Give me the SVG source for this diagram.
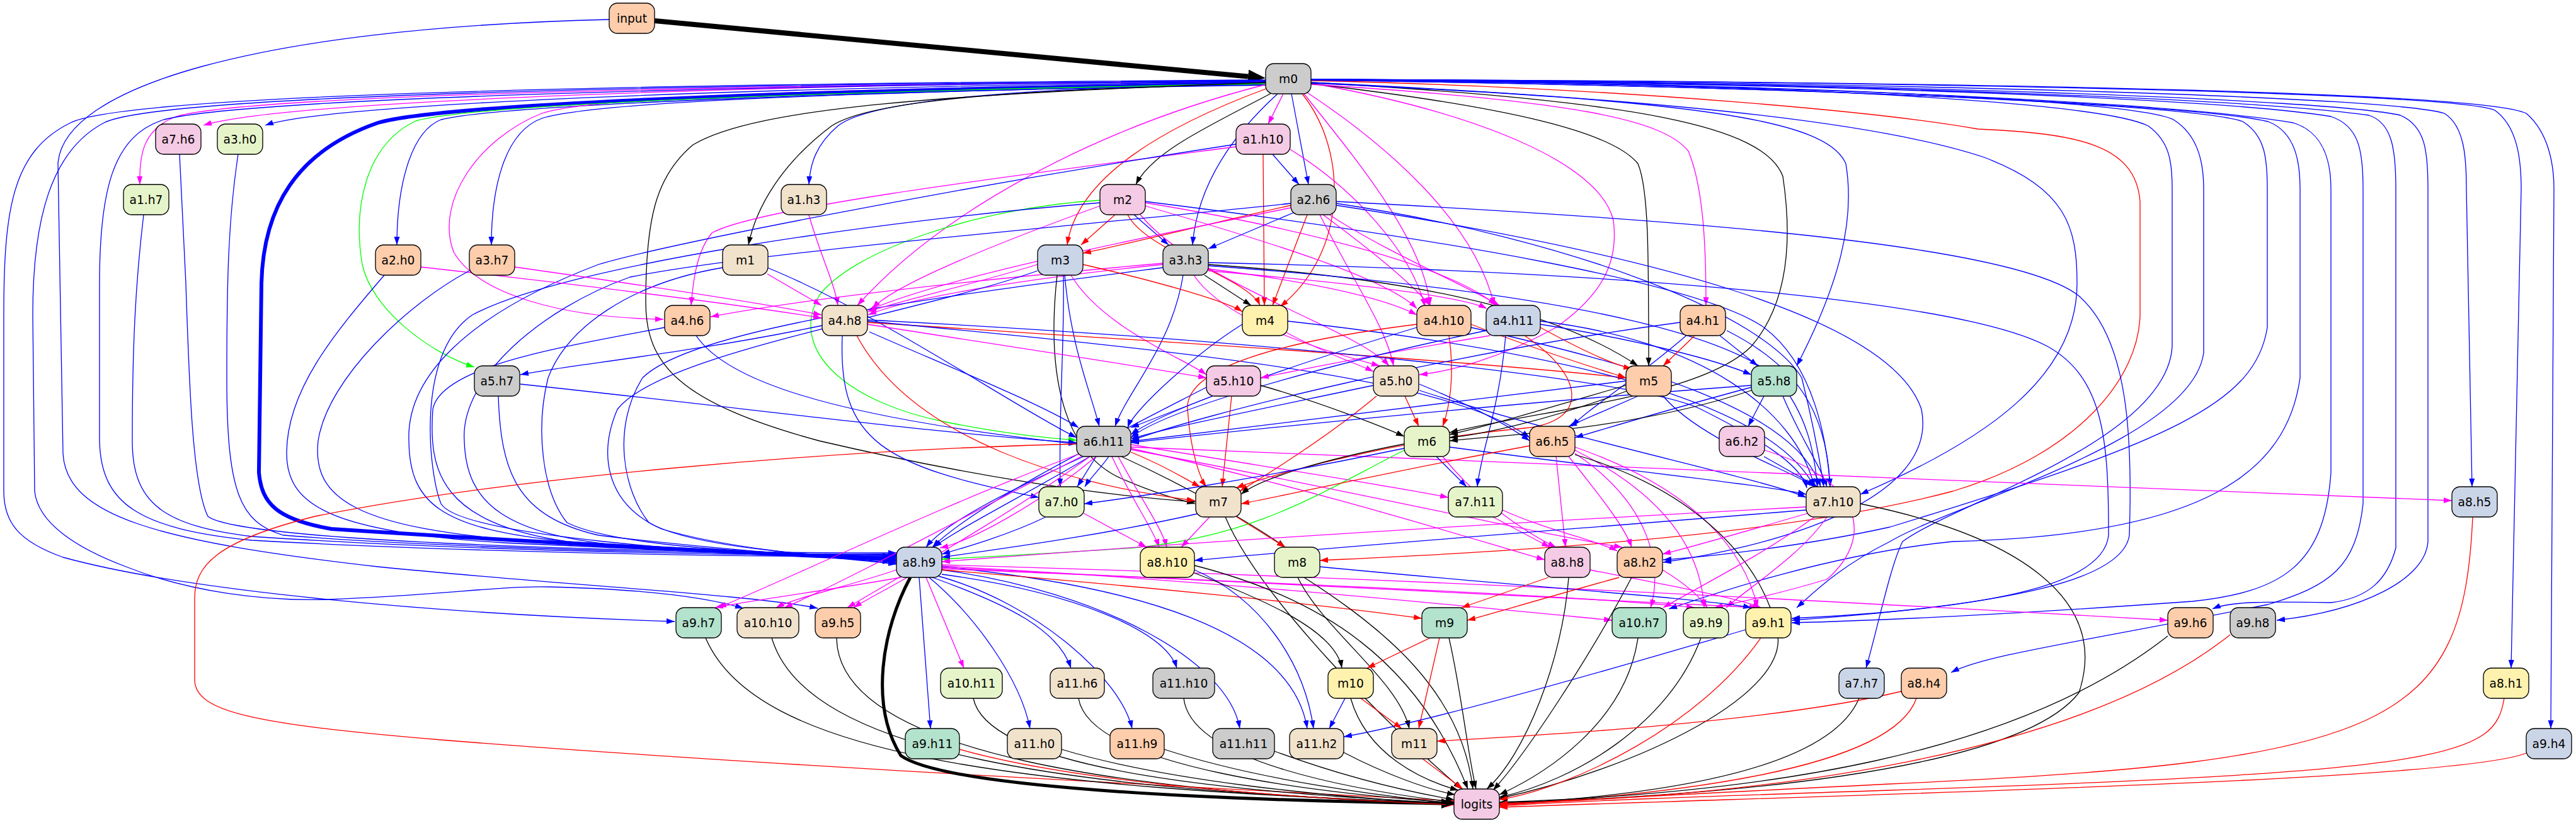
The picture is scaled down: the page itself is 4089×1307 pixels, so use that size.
<svg xmlns="http://www.w3.org/2000/svg" width="4089" height="1307" viewBox="0 0 4089 1307">
<style>
.n rect{stroke:#000;stroke-width:1.33}
.n text{font-family:"DejaVu Sans","Liberation Sans",sans-serif;font-size:18.67px;text-anchor:middle;fill:#000}
.c1{fill:#b3e2cd}.c2{fill:#fdcdac}.c3{fill:#cbd5e8}.c4{fill:#f4cae4}.c5{fill:#e6f5c9}.c6{fill:#fff2ae}.c7{fill:#f1e2cc}.c8{fill:#cccccc}
#edges path{fill:none;stroke-width:1.3}
#edges .b{stroke:#0000ff;marker-end:url(#ab)}
#edges .m{stroke:#ff00ff;marker-end:url(#am)}
#edges .r{stroke:#ff0000;marker-end:url(#ar)}
#edges .k{stroke:#000000;marker-end:url(#ak)}
#edges .g{stroke:#00ff00;marker-end:url(#ag)}
#edges .tk{stroke:#000000;stroke-width:8;marker-end:url(#akb)}
#edges .tb{stroke:#0000ff;stroke-width:6;marker-end:url(#abb)}
#edges .tl{stroke:#000000;stroke-width:5;marker-end:url(#akl)}
</style>
<defs>
<marker id="ab" markerUnits="userSpaceOnUse" markerWidth="13" markerHeight="10" refX="13" refY="5" orient="auto"><path d="M0,0.5 L13,5 L0,9.5 z" fill="#0000ff"/></marker>
<marker id="am" markerUnits="userSpaceOnUse" markerWidth="13" markerHeight="10" refX="13" refY="5" orient="auto"><path d="M0,0.5 L13,5 L0,9.5 z" fill="#ff00ff"/></marker>
<marker id="ar" markerUnits="userSpaceOnUse" markerWidth="13" markerHeight="10" refX="13" refY="5" orient="auto"><path d="M0,0.5 L13,5 L0,9.5 z" fill="#ff0000"/></marker>
<marker id="ak" markerUnits="userSpaceOnUse" markerWidth="13" markerHeight="10" refX="13" refY="5" orient="auto"><path d="M0,0.5 L13,5 L0,9.5 z" fill="#000000"/></marker>
<marker id="ag" markerUnits="userSpaceOnUse" markerWidth="13" markerHeight="10" refX="13" refY="5" orient="auto"><path d="M0,0.5 L13,5 L0,9.5 z" fill="#00ff00"/></marker>
<marker id="akb" markerUnits="userSpaceOnUse" markerWidth="28" markerHeight="22" refX="0" refY="11" orient="auto"><path d="M0,0 L28,11 L0,22 z" fill="#000000"/></marker>
<marker id="abb" markerUnits="userSpaceOnUse" markerWidth="22" markerHeight="18" refX="0" refY="9" orient="auto"><path d="M0,0 L22,9 L0,18 z" fill="#0000ff"/></marker>
<marker id="akl" markerUnits="userSpaceOnUse" markerWidth="20" markerHeight="16" refX="0" refY="8" orient="auto"><path d="M0,0 L20,8 L0,16 z" fill="#000000"/></marker>
</defs>
<rect width="4089" height="1307" fill="#ffffff"/>
<g id="edges">
<path class="tk" d="M1039,33 L1981,121.5"/>
<path class="b" d="M967,31 C400,45 100,140 92,260 L100,720 C105,820 250,860 600,900 C900,930 1200,945 1298,966"/>
<path class="m" d="M2037,149 L2013,197"/>
<path class="b" d="M2050,149 L2077,293"/>
<path class="k" d="M2020,147 C1920,200 1830,240 1803,293"/>
<path class="r" d="M2012,140 C1850,200 1710,280 1694,389"/>
<path class="b" d="M2028,149 C1950,220 1900,300 1893,389"/>
<path class="r" d="M2067,149 C2140,240 2140,400 2032,487"/>
<path class="b" d="M2009,132 C1600,140 1380,160 1330,200 C1295,230 1286,260 1284,293"/>
<path class="k" d="M2009,133 C1600,142 1380,160 1320,200 C1240,260 1200,330 1188,389"/>
<path class="b" d="M2009,134 C1400,145 800,165 700,190 C650,210 630,300 630,389"/>
<path class="b" d="M2009,134 C1400,145 950,160 860,188 C800,210 780,300 780,389"/>
<path class="m" d="M2009,131 C1400,140 950,150 860,180 C760,220 690,320 720,400 C760,470 900,505 1053,507"/>
<path class="m" d="M2009,129 C1200,135 400,150 280,185 C225,205 221,250 222,293"/>
<path class="m" d="M2009,128 C1200,134 450,160 323,199"/>
<path class="b" d="M2009,130 C1200,137 520,165 421,199"/>
<path class="b" d="M2009,127 C1000,133 200,150 112,195 C20,240 6,330 6,500 L6,780 C6,830 30,860 100,885 C300,940 700,975 1071,987"/>
<path class="b" d="M2009,128 C1000,135 250,152 165,195 C80,240 52,350 52,500 L55,780 C60,830 120,870 200,900 C300,940 420,955 520,952 C700,945 800,930 870,932 C1000,935 1110,945 1180,966"/>
<path class="b" d="M2009,129 C1200,135 400,155 260,190 C180,215 158,300 158,450 L158,700 C160,800 220,840 400,858 C700,875 1100,884 1423,884"/>
<path class="tb" d="M2009,133 C1300,142 700,165 600,195 C470,240 418,330 415,450 L411,750 C415,800 440,825 526,840 C800,858 1200,880 1401,887"/>
<path class="g" d="M2009,133 C1300,145 760,165 660,192 C580,230 560,330 575,420 C590,490 680,560 753,583"/>
<path class="k" d="M2009,131 C1500,150 1200,170 1100,230 C1040,280 1025,350 1025,480 C1025,580 1080,640 1300,700 C1600,770 1800,790 1897,797"/>
<path class="m" d="M2010,134 C1750,200 1500,330 1361,485"/>
<path class="m" d="M2070,149 C2150,250 2260,380 2270,485"/>
<path class="m" d="M2075,147 C2200,230 2340,350 2372,485"/>
<path class="m" d="M2081,132 C2350,180 2540,260 2561,350 C2570,420 2540,470 2470,520 C2380,570 2300,590 2253,595"/>
<path class="k" d="M2081,133 C2400,170 2560,210 2600,260 C2617,300 2617,400 2617,581"/>
<path class="m" d="M2081,134 C2500,160 2640,190 2680,240 C2705,300 2708,400 2708,485"/>
<path class="k" d="M2081,131 C2600,160 2800,200 2830,280 C2845,380 2840,480 2780,550 C2700,630 2450,650 2301,687"/>
<path class="b" d="M2081,132 C2700,160 2900,190 2930,260 C2945,350 2920,450 2852,581"/>
<path class="r" d="M2081,128 C2600,140 3000,180 3140,205 C3300,212 3390,230 3397,320 L3397,500 C3395,600 3300,720 3100,780 C2800,860 2300,880 2095,890"/>
<path class="b" d="M2081,131 C2700,160 3000,200 3150,250 C3280,300 3297,360 3297,450 C3297,600 3150,700 2953,785"/>
<path class="b" d="M2081,127 C3000,135 3500,170 3640,195 C3690,210 3700,260 3700,300 L3700,750 C3690,900 3620,940 3480,955 C3200,975 3000,985 2844,989"/>
<path class="b" d="M2081,127 C3000,140 3500,170 3600,193 C3645,210 3651,260 3651,300 L3651,600 C3630,750 3500,850 3100,860 C2900,880 2700,950 2649,967"/>
<path class="b" d="M2081,127 C3000,140 3500,170 3560,193 C3595,215 3599,250 3599,300 L3599,520 C3580,640 3450,700 3000,837 C2850,870 2700,885 2640,889"/>
<path class="b" d="M2081,126 C3000,135 3400,165 3450,190 C3490,215 3498,260 3498,300 L3498,560 C3480,700 3100,800 3000,860 C2920,900 2880,940 2852,965"/>
<path class="b" d="M2081,126 C3000,135 3350,170 3410,200 C3445,225 3448,260 3448,300 L3448,550 C3440,700 3100,800 3020,860 C3000,900 2980,1000 2962,1061"/>
<path class="b" d="M2081,126 C3000,133 3550,160 3700,185 C3745,200 3751,240 3751,300 L3751,800 C3740,900 3700,930 3600,960 C3300,1020 3150,1040 3097,1068"/>
<path class="b" d="M2081,126 C3000,132 3600,160 3760,183 C3798,195 3803,240 3803,300 L3803,870 C3790,920 3760,950 3700,957 C3600,955 3540,955 3512,967"/>
<path class="b" d="M2081,126 C3000,131 3700,158 3810,183 C3850,200 3854,240 3854,300 L3854,860 C3850,920 3750,970 3614,985"/>
<path class="b" d="M2081,126 C3100,131 3800,155 3880,180 C3912,200 3915,250 3915,300 L3924,773"/>
<path class="b" d="M2081,126 C3200,130 3900,150 3960,175 C3995,200 4002,250 4002,300 L3986,1061"/>
<path class="b" d="M2081,126 C3300,130 3950,150 4010,180 C4045,210 4054,260 4054,300 L4049,1157"/>
<path class="b" d="M2020,245 L2062,293"/>
<path class="r" d="M2005,245 L2007,485"/>
<path class="m" d="M1962,233 C1600,280 1200,330 1130,370 C1105,400 1100,450 1097,485"/>
<path class="b" d="M1962,229 C1500,300 1050,390 950,420 C740,500 645,600 649,700 C650,800 700,840 900,860 C1150,875 1350,882 1423,886"/>
<path class="m" d="M2046,236 C2150,300 2240,400 2262,487"/>
<path class="r" d="M1770,341 L1716,389"/>
<path class="b" d="M1800,341 L1855,389"/>
<path class="r" d="M1790,341 C1820,400 1980,440 2000,485"/>
<path class="g" d="M1746,318 C1550,330 1350,400 1300,470 C1250,560 1350,640 1500,670 C1600,690 1680,697 1709,699"/>
<path class="b" d="M1746,322 C1400,350 900,420 750,500 C660,560 680,750 700,800 C730,850 1100,878 1423,890"/>
<path class="m" d="M1746,327 C1600,380 1420,450 1385,490"/>
<path class="m" d="M1818,327 C2000,380 2200,440 2249,490"/>
<path class="m" d="M1818,322 C2050,360 2300,420 2375,485"/>
<path class="b" d="M1818,320 C2300,380 2700,450 2800,520 C2880,580 2900,700 2905,773"/>
<path class="m" d="M1810,341 C1900,450 2150,520 2205,581"/>
<path class="r" d="M2049,326 C1900,360 1780,390 1719,402"/>
<path class="b" d="M2055,337 L1918,395"/>
<path class="r" d="M2075,341 L2020,485"/>
<path class="m" d="M2049,330 C1800,380 1500,440 1378,493"/>
<path class="b" d="M2049,323 C1700,360 1200,400 1000,440 C860,490 730,600 737,700 C740,800 800,850 1000,868 C1200,880 1350,886 1423,892"/>
<path class="m" d="M2100,341 C2180,400 2240,450 2270,485"/>
<path class="m" d="M2110,341 C2200,400 2320,450 2380,485"/>
<path class="b" d="M2121,320 C2700,350 3200,390 3300,470 C3380,540 3385,700 3380,850 C3370,920 3200,960 2844,985"/>
<path class="b" d="M2121,323 C2500,380 2800,500 2860,600 C2880,680 2890,740 2895,773"/>
<path class="m" d="M2095,341 C2150,450 2200,520 2212,581"/>
<path class="b" d="M2121,326 C2600,400 3000,500 3050,650 C3080,800 2800,870 2640,893"/>
<path class="k" d="M1912,437 L1986,485"/>
<path class="k" d="M1918,420 C2200,440 2450,480 2600,581"/>
<path class="b" d="M1878,437 C1860,550 1790,620 1770,677"/>
<path class="m" d="M1846,420 C1650,440 1450,470 1378,500"/>
<path class="m" d="M1846,418 C1600,440 1300,470 1128,503"/>
<path class="b" d="M1918,417 C2500,430 3100,470 3250,550 C3340,600 3347,700 3347,850 C3340,920 3200,965 2844,982"/>
<path class="b" d="M1918,422 C2300,450 2700,500 2820,600 C2870,660 2880,720 2885,773"/>
<path class="b" d="M1846,425 C1500,470 1100,520 1020,600 C970,680 990,780 1030,830 C1100,870 1300,883 1423,888"/>
<path class="m" d="M1918,427 C2100,450 2200,475 2249,500"/>
<path class="m" d="M1918,430 C2150,450 2320,470 2360,490"/>
<path class="m" d="M1895,437 C1950,520 2150,570 2190,581"/>
<path class="r" d="M1719,420 C1850,450 1950,480 1972,495"/>
<path class="b" d="M1690,437 C1700,550 1730,620 1745,677"/>
<path class="k" d="M1678,437 C1660,600 1690,720 1780,760 C1850,790 1880,795 1897,800"/>
<path class="b" d="M1688,437 C1690,550 1680,650 1683,773"/>
<path class="m" d="M1647,420 C1550,450 1420,480 1378,495"/>
<path class="b" d="M1647,430 C1450,500 1050,560 980,650 C950,720 960,800 1050,840 C1150,870 1300,884 1423,894"/>
<path class="m" d="M1700,437 C1750,520 1880,570 1915,595"/>
<path class="m" d="M1284,341 C1300,400 1325,450 1330,485"/>
<path class="m" d="M1218,435 L1304,485"/>
<path class="b" d="M1147,425 C1000,450 900,520 870,600 C850,680 860,780 900,830 C980,870 1250,882 1423,882"/>
<path class="b" d="M1218,425 C1400,500 1600,640 1709,695"/>
<path class="m" d="M668,424 C900,450 1150,480 1304,505"/>
<path class="b" d="M610,437 C530,530 455,620 455,720 C455,800 520,845 800,862 C1100,876 1300,884 1423,880"/>
<path class="m" d="M817,424 C1000,450 1200,480 1304,500"/>
<path class="b" d="M745,430 C650,480 520,600 505,700 C495,790 560,840 850,860 C1150,876 1330,884 1423,884"/>
<path class="b" d="M285,245 L295,450 C300,600 305,770 330,820 C380,860 1000,878 1423,878"/>
<path class="b" d="M378,245 C362,350 360,450 360,600 C360,780 380,830 450,850 C700,870 1100,880 1423,880"/>
<path class="b" d="M228,341 C215,450 210,550 210,700 C210,800 260,835 400,852 C700,872 1100,882 1423,882"/>
<path class="b" d="M1055,520 C900,550 700,580 687,650 C680,750 700,830 900,860 C1150,878 1330,885 1423,890"/>
<path class="b" d="M1105,533 C1150,600 1300,660 1709,705"/>
<path class="b" d="M1305,517 C1100,560 900,580 826,595"/>
<path class="b" d="M1380,527 C1500,580 1650,640 1712,679"/>
<path class="m" d="M1377,515 C1600,550 1800,580 1915,600"/>
<path class="r" d="M1377,512 C1800,540 2300,570 2581,600"/>
<path class="r" d="M1360,533 C1450,700 1700,770 1897,795"/>
<path class="b" d="M1337,533 C1330,700 1400,740 1649,790"/>
<path class="b" d="M1377,510 C1900,560 2300,600 2428,695"/>
<path class="b" d="M1377,508 C2000,540 2600,600 2700,650 C2800,700 2860,740 2868,775"/>
<path class="m" d="M2040,527 C2100,560 2160,580 2180,590"/>
<path class="b" d="M1972,515 C1900,560 1800,650 1790,679"/>
<path class="b" d="M2044,510 C2400,550 2800,620 2880,773"/>
<path class="r" d="M2300,533 C2310,600 2300,650 2290,677"/>
<path class="r" d="M2335,515 C2450,560 2550,590 2581,600"/>
<path class="b" d="M2249,520 C2050,580 1850,650 1795,690"/>
<path class="b" d="M2335,520 C2600,580 2850,650 2890,773"/>
<path class="r" d="M2249,515 C2050,540 1880,580 1885,650 C1890,720 1905,760 1915,773"/>
<path class="r" d="M2445,520 C2500,550 2560,580 2590,585"/>
<path class="m" d="M2365,533 C2200,560 2050,590 2001,600"/>
<path class="b" d="M2390,533 C2380,650 2350,720 2345,773"/>
<path class="b" d="M2359,525 C2100,580 1850,650 1795,695"/>
<path class="b" d="M2445,515 C2600,540 2720,570 2780,595"/>
<path class="r" d="M2420,533 C2520,600 2520,670 2420,680 C2200,700 2000,760 1962,775"/>
<path class="b" d="M2445,510 C2700,540 2850,650 2880,773"/>
<path class="r" d="M2690,533 L2640,581"/>
<path class="b" d="M2730,533 L2790,581"/>
<path class="b" d="M2667,512 C2300,560 1900,660 1795,700"/>
<path class="b" d="M2741,525 C2850,580 2900,650 2905,773"/>
<path class="b" d="M2680,530 C2600,600 2520,650 2495,677"/>
<path class="b" d="M791,629 C795,750 820,820 950,850 C1150,875 1330,884 1423,896"/>
<path class="b" d="M826,610 C1200,650 1500,690 1709,703"/>
<path class="b" d="M1925,629 L1795,679"/>
<path class="r" d="M1955,629 L1940,773"/>
<path class="k" d="M2001,612 C2100,640 2200,680 2229,693"/>
<path class="b" d="M1915,615 C1750,700 1550,800 1480,869"/>
<path class="r" d="M2230,629 L2252,677"/>
<path class="b" d="M2253,610 C2350,650 2400,680 2428,700"/>
<path class="b" d="M2180,612 C2000,650 1850,680 1795,697"/>
<path class="r" d="M2185,629 C2100,700 2000,760 1968,780"/>
<path class="b" d="M2253,620 C2500,700 2800,760 2867,790"/>
<path class="k" d="M2581,612 C2450,650 2350,680 2301,690"/>
<path class="k" d="M2585,620 C2450,670 2350,690 2301,695"/>
<path class="b" d="M2600,629 L2490,677"/>
<path class="b" d="M2581,605 C2300,640 1950,680 1795,701"/>
<path class="b" d="M2640,629 C2700,700 2850,750 2880,773"/>
<path class="b" d="M2800,629 L2775,677"/>
<path class="b" d="M2780,615 C2650,650 2550,680 2500,695"/>
<path class="k" d="M2780,620 C2600,680 2400,690 2301,700"/>
<path class="b" d="M2780,612 C2400,640 2000,680 1795,703"/>
<path class="b" d="M2830,629 C2860,700 2890,740 2900,773"/>
<path class="b" d="M1740,725 L1710,773"/>
<path class="b" d="M1760,725 C1750,740 1730,760 1722,773"/>
<path class="r" d="M1795,718 C1850,740 1880,760 1905,773"/>
<path class="k" d="M1780,725 C1900,780 2000,840 2040,869"/>
<path class="b" d="M1720,725 C1600,780 1500,830 1470,869"/>
<path class="b" d="M1730,725 C1620,790 1520,840 1482,869"/>
<path class="m" d="M1795,706 C2000,740 2200,770 2299,790"/>
<path class="m" d="M1765,725 C1800,800 1830,840 1840,869"/>
<path class="m" d="M1775,725 C1810,790 1845,840 1852,869"/>
<path class="m" d="M1795,710 C2600,740 3400,775 3892,795"/>
<path class="m" d="M1795,712 C2100,780 2350,860 2452,889"/>
<path class="m" d="M1795,714 C2150,780 2450,850 2575,869"/>
<path class="r" d="M1709,705 C1300,715 800,760 500,820 C340,860 309,900 309,950 L309,1080 C310,1130 400,1150 700,1175 C1200,1215 1900,1250 2308,1272"/>
<path class="m" d="M1715,720 C1500,800 1250,920 1140,965"/>
<path class="m" d="M1720,723 C1550,810 1350,920 1245,965"/>
<path class="m" d="M1730,725 C1600,820 1420,920 1345,965"/>
<path class="m" d="M1740,725 C1650,800 1540,860 1492,870"/>
<path class="b" d="M2280,725 L2328,773"/>
<path class="g" d="M2229,715 C2100,780 2000,850 1800,870 C1650,880 1550,885 1495,888"/>
<path class="k" d="M2229,705 C2100,730 2000,760 1970,785"/>
<path class="b" d="M2301,710 C2600,750 2800,770 2867,785"/>
<path class="m" d="M2290,725 C2350,800 2430,850 2470,869"/>
<path class="b" d="M2229,712 C2000,760 1800,790 1721,800"/>
<path class="r" d="M2428,708 C2200,750 2050,785 1970,800"/>
<path class="m" d="M2470,725 L2485,869"/>
<path class="m" d="M2490,725 C2550,800 2580,840 2590,869"/>
<path class="m" d="M2500,720 C2620,800 2640,900 2620,965"/>
<path class="m" d="M2500,715 C2650,790 2700,880 2705,965"/>
<path class="m" d="M2500,710 C2700,780 2770,880 2790,965"/>
<path class="k" d="M2500,722 C2700,780 2800,900 2820,1000 C2850,1100 2600,1220 2380,1268"/>
<path class="b" d="M2800,725 L2885,773"/>
<path class="m" d="M2801,715 C2950,760 2980,850 2900,920 C2800,950 2740,960 2722,965"/>
<path class="m" d="M1720,815 L1820,869"/>
<path class="b" d="M1660,821 C1600,850 1530,870 1495,880"/>
<path class="r" d="M1963,821 L2040,869"/>
<path class="m" d="M1920,821 L1875,869"/>
<path class="b" d="M1905,815 C1750,850 1600,870 1495,885"/>
<path class="k" d="M1945,821 C2000,950 2200,1150 2320,1253"/>
<path class="m" d="M2385,810 C2450,840 2540,860 2567,875"/>
<path class="m" d="M2370,821 L2460,869"/>
<path class="m" d="M2867,805 C2400,830 1900,860 1495,892"/>
<path class="b" d="M2867,810 C2500,840 2100,870 1896,890"/>
<path class="k" d="M2953,800 C3200,850 3350,950 3300,1100 C3200,1230 2700,1265 2380,1275"/>
<path class="m" d="M2880,821 C2800,880 2700,930 2640,965"/>
<path class="m" d="M2870,815 C2750,850 2680,870 2639,880"/>
<path class="m" d="M2900,821 C2860,880 2780,930 2740,965"/>
<path class="tl" d="M1445,917 C1400,1000 1380,1120 1430,1200 C1500,1250 1900,1270 2288,1276"/>
<path class="m" d="M1430,917 C1300,940 1180,955 1135,965"/>
<path class="m" d="M1423,905 C1350,930 1260,950 1232,965"/>
<path class="m" d="M1440,917 C1400,940 1370,955 1355,965"/>
<path class="m" d="M1470,917 L1530,1061"/>
<path class="b" d="M1459,917 L1477,1157"/>
<path class="b" d="M1480,917 C1600,960 1680,1000 1700,1061"/>
<path class="b" d="M1475,917 C1550,980 1620,1080 1635,1157"/>
<path class="b" d="M1495,912 C1700,940 1850,1000 1868,1061"/>
<path class="b" d="M1490,915 C1650,960 1780,1080 1797,1157"/>
<path class="b" d="M1495,905 C1750,940 1950,1050 1968,1157"/>
<path class="b" d="M1495,900 C1800,930 2050,1000 2075,1157"/>
<path class="m" d="M1495,897 C2300,920 3000,960 3441,985"/>
<path class="m" d="M1495,899 C1900,920 2300,960 2559,985"/>
<path class="m" d="M1495,901 C2000,930 2500,950 2790,965"/>
<path class="m" d="M1495,903 C2000,925 2500,945 2690,965"/>
<path class="r" d="M1495,905 C1800,930 2100,960 2257,982"/>
<path class="b" d="M1896,905 C2000,950 2070,1050 2085,1157"/>
<path class="k" d="M1896,910 C2000,950 2120,1000 2130,1061"/>
<path class="k" d="M1896,898 C2100,950 2250,1050 2330,1253"/>
<path class="k" d="M2060,917 C2100,1000 2220,1080 2237,1157"/>
<path class="k" d="M2070,917 C2200,1000 2320,1100 2338,1253"/>
<path class="b" d="M2095,900 C2400,930 2700,950 2780,965"/>
<path class="r" d="M2458,917 L2320,965"/>
<path class="k" d="M2490,917 C2480,1050 2420,1200 2360,1253"/>
<path class="m" d="M2524,905 C2650,930 2760,950 2795,965"/>
<path class="r" d="M2570,917 C2450,950 2350,980 2329,985"/>
<path class="k" d="M2590,917 C2520,1050 2420,1200 2370,1255"/>
<path class="m" d="M2639,905 C2680,930 2700,950 2710,965"/>
<path class="r" d="M2270,1013 L2170,1061"/>
<path class="r" d="M2285,1013 L2252,1157"/>
<path class="k" d="M2300,1013 C2320,1100 2330,1200 2343,1253"/>
<path class="k" d="M2600,1013 C2580,1150 2450,1230 2380,1262"/>
<path class="k" d="M2700,1013 C2650,1150 2500,1240 2380,1266"/>
<path class="r" d="M2795,1013 C2700,1150 2500,1250 2380,1270"/>
<path class="b" d="M2771,1000 C2500,1080 2250,1150 2133,1170"/>
<path class="k" d="M1120,1013 C1200,1200 1600,1250 2308,1276"/>
<path class="k" d="M1225,1013 C1280,1200 1700,1255 2308,1276"/>
<path class="k" d="M1328,1013 C1330,1200 1800,1260 2308,1277"/>
<path class="k" d="M1545,1109 C1570,1230 2000,1260 2308,1276"/>
<path class="k" d="M1712,1109 C1730,1220 2100,1260 2308,1275"/>
<path class="k" d="M1879,1109 C1890,1210 2150,1255 2308,1274"/>
<path class="r" d="M1523,1190 C1700,1240 2000,1265 2308,1278"/>
<path class="k" d="M1685,1190 C1850,1240 2100,1265 2308,1277"/>
<path class="k" d="M1848,1190 C2000,1240 2200,1265 2308,1276"/>
<path class="k" d="M2023,1193 C2150,1240 2250,1260 2308,1270"/>
<path class="k" d="M2133,1195 C2200,1230 2270,1255 2310,1262"/>
<path class="r" d="M2258,1205 L2322,1253"/>
<path class="r" d="M2160,1109 L2225,1157"/>
<path class="k" d="M2144,1109 C2170,1200 2260,1240 2315,1255"/>
<path class="b" d="M2135,1109 L2110,1157"/>
<path class="k" d="M2951,1109 C2900,1230 2600,1265 2380,1277"/>
<path class="r" d="M3042,1109 C3000,1230 2600,1265 2380,1278"/>
<path class="r" d="M3018,1098 C2800,1150 2400,1170 2281,1177"/>
<path class="k" d="M3441,1010 C3200,1200 2800,1260 2380,1274"/>
<path class="r" d="M3540,1008 C3300,1200 2800,1265 2380,1276"/>
<path class="r" d="M3925,821 C3910,1150 3800,1210 3000,1245 C2700,1260 2500,1270 2380,1279"/>
<path class="r" d="M3975,1109 C3960,1200 3900,1225 3000,1255 C2700,1265 2500,1272 2380,1280"/>
<path class="r" d="M4010,1196 C3900,1240 3000,1260 2380,1282"/>
</g>
<g id="nodes">
<g id="node-input" class="n"><rect class="c2" x="967" y="5" width="72" height="48" rx="13"/><text x="1003" y="35.5">input</text></g>
<g id="node-m0" class="n"><rect class="c8" x="2009" y="101" width="72" height="48" rx="13"/><text x="2045" y="131.5">m0</text></g>
<g id="node-a1.h10" class="n"><rect class="c4" x="1962" y="197" width="86" height="48" rx="13"/><text x="2005" y="227.5">a1.h10</text></g>
<g id="node-a7.h6" class="n"><rect class="c4" x="247" y="197" width="72" height="48" rx="13"/><text x="283" y="227.5">a7.h6</text></g>
<g id="node-a3.h0" class="n"><rect class="c5" x="345" y="197" width="72" height="48" rx="13"/><text x="381" y="227.5">a3.h0</text></g>
<g id="node-a1.h7" class="n"><rect class="c5" x="196" y="293" width="72" height="48" rx="13"/><text x="232" y="323.5">a1.h7</text></g>
<g id="node-a1.h3" class="n"><rect class="c7" x="1240" y="293" width="72" height="48" rx="13"/><text x="1276" y="323.5">a1.h3</text></g>
<g id="node-m2" class="n"><rect class="c4" x="1746" y="293" width="72" height="48" rx="13"/><text x="1782" y="323.5">m2</text></g>
<g id="node-a2.h6" class="n"><rect class="c8" x="2049" y="293" width="72" height="48" rx="13"/><text x="2085" y="323.5">a2.h6</text></g>
<g id="node-a2.h0" class="n"><rect class="c2" x="596" y="389" width="72" height="48" rx="13"/><text x="632" y="419.5">a2.h0</text></g>
<g id="node-a3.h7" class="n"><rect class="c2" x="745" y="389" width="72" height="48" rx="13"/><text x="781" y="419.5">a3.h7</text></g>
<g id="node-m1" class="n"><rect class="c7" x="1147" y="389" width="72" height="48" rx="13"/><text x="1183" y="419.5">m1</text></g>
<g id="node-m3" class="n"><rect class="c3" x="1647" y="389" width="72" height="48" rx="13"/><text x="1683" y="419.5">m3</text></g>
<g id="node-a3.h3" class="n"><rect class="c8" x="1846" y="389" width="72" height="48" rx="13"/><text x="1882" y="419.5">a3.h3</text></g>
<g id="node-a4.h6" class="n"><rect class="c2" x="1055" y="485" width="72" height="48" rx="13"/><text x="1091" y="515.5">a4.h6</text></g>
<g id="node-a4.h8" class="n"><rect class="c7" x="1305" y="485" width="72" height="48" rx="13"/><text x="1341" y="515.5">a4.h8</text></g>
<g id="node-m4" class="n"><rect class="c6" x="1972" y="485" width="72" height="48" rx="13"/><text x="2008" y="515.5">m4</text></g>
<g id="node-a4.h10" class="n"><rect class="c2" x="2249" y="485" width="86" height="48" rx="13"/><text x="2292" y="515.5">a4.h10</text></g>
<g id="node-a4.h11" class="n"><rect class="c3" x="2359" y="485" width="86" height="48" rx="13"/><text x="2402" y="515.5">a4.h11</text></g>
<g id="node-a4.h1" class="n"><rect class="c2" x="2667" y="485" width="72" height="48" rx="13"/><text x="2703" y="515.5">a4.h1</text></g>
<g id="node-a5.h7" class="n"><rect class="c8" x="753" y="581" width="72" height="48" rx="13"/><text x="789" y="611.5">a5.h7</text></g>
<g id="node-a5.h10" class="n"><rect class="c4" x="1915" y="581" width="86" height="48" rx="13"/><text x="1958" y="611.5">a5.h10</text></g>
<g id="node-a5.h0" class="n"><rect class="c7" x="2180" y="581" width="72" height="48" rx="13"/><text x="2216" y="611.5">a5.h0</text></g>
<g id="node-m5" class="n"><rect class="c2" x="2581" y="581" width="72" height="48" rx="13"/><text x="2617" y="611.5">m5</text></g>
<g id="node-a5.h8" class="n"><rect class="c1" x="2780" y="581" width="72" height="48" rx="13"/><text x="2816" y="611.5">a5.h8</text></g>
<g id="node-a6.h11" class="n"><rect class="c8" x="1709" y="677" width="86" height="48" rx="13"/><text x="1752" y="707.5">a6.h11</text></g>
<g id="node-m6" class="n"><rect class="c5" x="2229" y="677" width="72" height="48" rx="13"/><text x="2265" y="707.5">m6</text></g>
<g id="node-a6.h5" class="n"><rect class="c2" x="2428" y="677" width="72" height="48" rx="13"/><text x="2464" y="707.5">a6.h5</text></g>
<g id="node-a6.h2" class="n"><rect class="c4" x="2729" y="677" width="72" height="48" rx="13"/><text x="2765" y="707.5">a6.h2</text></g>
<g id="node-a7.h0" class="n"><rect class="c5" x="1649" y="773" width="72" height="48" rx="13"/><text x="1685" y="803.5">a7.h0</text></g>
<g id="node-m7" class="n"><rect class="c7" x="1898" y="773" width="72" height="48" rx="13"/><text x="1934" y="803.5">m7</text></g>
<g id="node-a7.h11" class="n"><rect class="c5" x="2299" y="773" width="86" height="48" rx="13"/><text x="2342" y="803.5">a7.h11</text></g>
<g id="node-a7.h10" class="n"><rect class="c7" x="2867" y="773" width="86" height="48" rx="13"/><text x="2910" y="803.5">a7.h10</text></g>
<g id="node-a8.h5" class="n"><rect class="c3" x="3892" y="773" width="72" height="48" rx="13"/><text x="3928" y="803.5">a8.h5</text></g>
<g id="node-a8.h9" class="n"><rect class="c3" x="1423" y="869" width="72" height="48" rx="13"/><text x="1459" y="899.5">a8.h9</text></g>
<g id="node-a8.h10" class="n"><rect class="c6" x="1810" y="869" width="86" height="48" rx="13"/><text x="1853" y="899.5">a8.h10</text></g>
<g id="node-m8" class="n"><rect class="c5" x="2023" y="869" width="72" height="48" rx="13"/><text x="2059" y="899.5">m8</text></g>
<g id="node-a8.h8" class="n"><rect class="c4" x="2452" y="869" width="72" height="48" rx="13"/><text x="2488" y="899.5">a8.h8</text></g>
<g id="node-a8.h2" class="n"><rect class="c2" x="2567" y="869" width="72" height="48" rx="13"/><text x="2603" y="899.5">a8.h2</text></g>
<g id="node-a9.h7" class="n"><rect class="c1" x="1073" y="965" width="72" height="48" rx="13"/><text x="1109" y="995.5">a9.h7</text></g>
<g id="node-a10.h10" class="n"><rect class="c7" x="1170" y="965" width="98" height="48" rx="13"/><text x="1219" y="995.5">a10.h10</text></g>
<g id="node-a9.h5" class="n"><rect class="c2" x="1294" y="965" width="72" height="48" rx="13"/><text x="1330" y="995.5">a9.h5</text></g>
<g id="node-m9" class="n"><rect class="c1" x="2257" y="965" width="72" height="48" rx="13"/><text x="2293" y="995.5">m9</text></g>
<g id="node-a10.h7" class="n"><rect class="c1" x="2559" y="965" width="86" height="48" rx="13"/><text x="2602" y="995.5">a10.h7</text></g>
<g id="node-a9.h9" class="n"><rect class="c5" x="2672" y="965" width="72" height="48" rx="13"/><text x="2708" y="995.5">a9.h9</text></g>
<g id="node-a9.h1" class="n"><rect class="c6" x="2771" y="965" width="72" height="48" rx="13"/><text x="2807" y="995.5">a9.h1</text></g>
<g id="node-a9.h6" class="n"><rect class="c2" x="3441" y="965" width="72" height="48" rx="13"/><text x="3477" y="995.5">a9.h6</text></g>
<g id="node-a9.h8" class="n"><rect class="c8" x="3540" y="965" width="72" height="48" rx="13"/><text x="3576" y="995.5">a9.h8</text></g>
<g id="node-a10.h11" class="n"><rect class="c5" x="1493" y="1061" width="98" height="48" rx="13"/><text x="1542" y="1091.5">a10.h11</text></g>
<g id="node-a11.h6" class="n"><rect class="c7" x="1667" y="1061" width="86" height="48" rx="13"/><text x="1710" y="1091.5">a11.h6</text></g>
<g id="node-a11.h10" class="n"><rect class="c8" x="1830" y="1061" width="98" height="48" rx="13"/><text x="1879" y="1091.5">a11.h10</text></g>
<g id="node-m10" class="n"><rect class="c6" x="2108" y="1061" width="72" height="48" rx="13"/><text x="2144" y="1091.5">m10</text></g>
<g id="node-a7.h7" class="n"><rect class="c3" x="2919" y="1061" width="72" height="48" rx="13"/><text x="2955" y="1091.5">a7.h7</text></g>
<g id="node-a8.h4" class="n"><rect class="c2" x="3018" y="1061" width="72" height="48" rx="13"/><text x="3054" y="1091.5">a8.h4</text></g>
<g id="node-a8.h1" class="n"><rect class="c6" x="3942" y="1061" width="72" height="48" rx="13"/><text x="3978" y="1091.5">a8.h1</text></g>
<g id="node-a9.h11" class="n"><rect class="c1" x="1437" y="1157" width="86" height="48" rx="13"/><text x="1480" y="1187.5">a9.h11</text></g>
<g id="node-a11.h0" class="n"><rect class="c7" x="1599" y="1157" width="86" height="48" rx="13"/><text x="1642" y="1187.5">a11.h0</text></g>
<g id="node-a11.h9" class="n"><rect class="c2" x="1762" y="1157" width="86" height="48" rx="13"/><text x="1805" y="1187.5">a11.h9</text></g>
<g id="node-a11.h11" class="n"><rect class="c8" x="1925" y="1157" width="98" height="48" rx="13"/><text x="1974" y="1187.5">a11.h11</text></g>
<g id="node-a11.h2" class="n"><rect class="c7" x="2047" y="1157" width="86" height="48" rx="13"/><text x="2090" y="1187.5">a11.h2</text></g>
<g id="node-m11" class="n"><rect class="c7" x="2209" y="1157" width="72" height="48" rx="13"/><text x="2245" y="1187.5">m11</text></g>
<g id="node-a9.h4" class="n"><rect class="c3" x="4010" y="1157" width="72" height="48" rx="13"/><text x="4046" y="1187.5">a9.h4</text></g>
<g id="node-logits" class="n"><rect class="c4" x="2308" y="1253" width="72" height="48" rx="13"/><text x="2344" y="1283.5">logits</text></g>
</g>
</svg>
